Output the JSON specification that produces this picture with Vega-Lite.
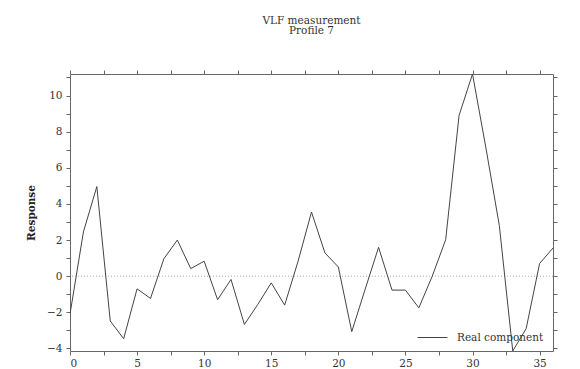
{
  "$schema": "https://vega.github.io/schema/vega-lite/v6.json",
  "width": 483,
  "height": 277,
  "autosize": {"type": "none"},
  "padding": {"left": 70, "top": 74, "right": 27, "bottom": 18},
  "background": "white",
  "title": {
    "text": "VLF measurement",
    "subtitle": "Profile 7",
    "font": "DejaVu Serif",
    "fontSize": 10.5,
    "fontWeight": "normal",
    "color": "#333",
    "subtitleFont": "DejaVu Serif",
    "subtitleFontSize": 10.5,
    "subtitleColor": "#333",
    "subtitlePadding": 0,
    "anchor": "middle",
    "offset": 33
  },
  "data": {
    "values": [
      {"x": 0, "y": -2.1, "s": "Real component"},
      {"x": 1, "y": 2.45, "s": "Real component"},
      {"x": 2, "y": 4.96, "s": "Real component"},
      {"x": 3, "y": -2.48, "s": "Real component"},
      {"x": 4, "y": -3.46, "s": "Real component"},
      {"x": 5, "y": -0.7, "s": "Real component"},
      {"x": 6, "y": -1.23, "s": "Real component"},
      {"x": 7, "y": 0.97, "s": "Real component"},
      {"x": 8, "y": 2.0, "s": "Real component"},
      {"x": 9, "y": 0.42, "s": "Real component"},
      {"x": 10, "y": 0.83, "s": "Real component"},
      {"x": 11, "y": -1.3, "s": "Real component"},
      {"x": 12, "y": -0.18, "s": "Real component"},
      {"x": 13, "y": -2.67, "s": "Real component"},
      {"x": 14, "y": -1.56, "s": "Real component"},
      {"x": 15, "y": -0.37, "s": "Real component"},
      {"x": 16, "y": -1.6, "s": "Real component"},
      {"x": 17, "y": 0.83, "s": "Real component"},
      {"x": 18, "y": 3.55, "s": "Real component"},
      {"x": 19, "y": 1.29, "s": "Real component"},
      {"x": 20, "y": 0.51, "s": "Real component"},
      {"x": 21, "y": -3.07, "s": "Real component"},
      {"x": 22, "y": -0.72, "s": "Real component"},
      {"x": 23, "y": 1.6, "s": "Real component"},
      {"x": 24, "y": -0.77, "s": "Real component"},
      {"x": 25, "y": -0.77, "s": "Real component"},
      {"x": 26, "y": -1.75, "s": "Real component"},
      {"x": 27, "y": 0.0, "s": "Real component"},
      {"x": 28, "y": 2.02, "s": "Real component"},
      {"x": 29, "y": 8.9, "s": "Real component"},
      {"x": 30, "y": 11.19, "s": "Real component"},
      {"x": 31, "y": 7.1, "s": "Real component"},
      {"x": 32, "y": 2.8, "s": "Real component"},
      {"x": 33, "y": -4.14, "s": "Real component"},
      {"x": 34, "y": -2.9, "s": "Real component"},
      {"x": 35, "y": 0.7, "s": "Real component"},
      {"x": 36, "y": 1.56, "s": "Real component"}
    ]
  },
  "layer": [
    {
      "data": {"values": [{"zero": 0}]},
      "mark": {"type": "rule", "color": "#aaa", "strokeDash": [1, 2], "strokeWidth": 1},
      "encoding": {
        "y": {"field": "zero", "type": "quantitative", "axis": null, "scale": {"domain": [-4.14, 11.19], "nice": false, "zero": false}}
      }
    },
    {
      "mark": {"type": "line", "strokeWidth": 1, "clip": true},
      "encoding": {
        "x": {
          "field": "x", "type": "quantitative",
          "scale": {"domain": [0, 36], "nice": false, "zero": false},
          "axis": {
            "orient": "bottom", "title": null,
            "values": [0, 2.5, 5, 7.5, 10, 12.5, 15, 17.5, 20, 22.5, 25, 27.5, 30, 32.5, 35],
            "labelExpr": "datum.value % 5 == 0 ? datum.label : ''",
            "grid": false, "tickSize": 4, "labelPadding": 3, "labelFontSize": 10.5,
            "labelFont": "DejaVu Serif", "labelColor": "#333",
            "domainColor": "#666", "tickColor": "#666"
          }
        },
        "y": {
          "field": "y", "type": "quantitative",
          "scale": {"domain": [-4.14, 11.19], "nice": false, "zero": false},
          "axis": {
            "orient": "left", "title": "Response",
            "values": [-4, -3, -2, -1, 0, 1, 2, 3, 4, 5, 6, 7, 8, 9, 10, 11],
            "labelExpr": "datum.value % 2 == 0 ? datum.label : ''",
            "grid": false, "tickSize": 4, "labelPadding": 4, "labelFontSize": 10.5,
            "labelFont": "DejaVu Serif", "labelColor": "#333",
            "titleFont": "DejaVu Serif", "titleFontSize": 10.5, "titleFontWeight": "bold", "titleColor": "#222",
            "titlePadding": 10,
            "domainColor": "#666", "tickColor": "#666"
          }
        },
        "color": {
          "field": "s", "type": "nominal",
          "scale": {"range": ["#444"]},
          "legend": {
            "title": null, "orient": "none", "legendX": 347, "legendY": 248,
            "symbolType": "stroke", "symbolSize": 900, "symbolStrokeWidth": 1,
            "labelFont": "DejaVu Serif", "labelFontSize": 10.5, "labelColor": "#333",
            "labelOffset": 9
          }
        }
      }
    },
    {
      "mark": {"type": "line", "opacity": 0},
      "encoding": {
        "x": {
          "field": "x", "type": "quantitative",
          "scale": {"domain": [0, 36], "nice": false, "zero": false},
          "axis": {
            "orient": "top", "title": null, "labels": false,
            "values": [0, 2.5, 5, 7.5, 10, 12.5, 15, 17.5, 20, 22.5, 25, 27.5, 30, 32.5, 35],
            "grid": false, "tickSize": 4, "domainColor": "#666", "tickColor": "#666"
          }
        },
        "y": {
          "field": "y", "type": "quantitative",
          "scale": {"domain": [-4.14, 11.19], "nice": false, "zero": false},
          "axis": {
            "orient": "right", "title": null, "labels": false,
            "values": [-4, -3, -2, -1, 0, 1, 2, 3, 4, 5, 6, 7, 8, 9, 10, 11],
            "grid": false, "tickSize": 4, "domainColor": "#666", "tickColor": "#666"
          }
        }
      }
    }
  ],
  "resolve": {"axis": {"x": "independent", "y": "independent"}},
  "config": {"font": "DejaVu Serif", "view": {"stroke": null}}
}
